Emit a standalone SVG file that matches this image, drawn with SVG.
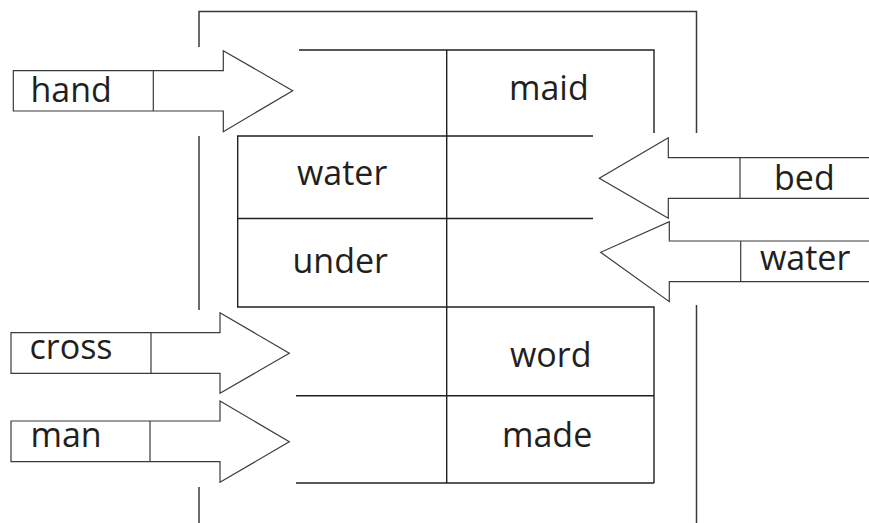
<svg xmlns="http://www.w3.org/2000/svg" width="869" height="523" viewBox="0 0 869 523">
  <style>
    .frame { fill: none; stroke: #3a3a3a; stroke-width: 1.5; }
    .grid { fill: none; stroke: #231f20; stroke-width: 1.4; }
    .arrow { fill: #ffffff; stroke: #3a3a3a; stroke-width: 1.2; stroke-linejoin: miter; }
    .div { stroke: #3a3a3a; stroke-width: 1.2; }
    text { font-family: "Open Sans", "Liberation Sans", sans-serif; font-size: 34px; fill: #231f20; }
  </style>
  <rect width="869" height="523" fill="#ffffff"/>

  <!-- outer frame with gaps for the arrows -->
  <g id="frame" class="frame">
    <path d="M199 47 V11.5 H696.5 V133"/>
    <path d="M199 136 V310"/>
    <path d="M199 487 V523"/>
    <path d="M696.5 305 V523"/>
  </g>

  <!-- word grid -->
  <g id="grid" class="grid">
    <path d="M299 50 H654 V133"/>
    <path d="M593 136 H237.7 V307 H654 V483"/>
    <path d="M237.7 218.5 H593"/>
    <path d="M296 395.7 H654"/>
    <path d="M296 483 H654"/>
    <path d="M446.7 50 V483"/>
  </g>

  <g id="cell-maid"><text x="509" y="100">maid</text></g>
  <g id="cell-water"><text x="297" y="185">water</text></g>
  <g id="cell-under"><text x="292.5" y="272.5">under</text></g>
  <g id="cell-word"><text x="510" y="366.5">word</text></g>
  <g id="cell-made"><text x="502" y="446.5">made</text></g>

  <!-- block arrows -->
  <g id="connectors">
    <g id="arrow-hand">
      <polygon class="arrow" points="13.3,70.7 223.3,70.7 223.3,50.7 292.7,90.7 223.3,131.7 223.3,111 13.3,111"/>
      <line class="div" x1="153.3" y1="70.7" x2="153.3" y2="111"/>
      <text x="30.5" y="101.5">hand</text>
    </g>
    <g id="arrow-cross">
      <polygon class="arrow" points="11,332.7 220,332.7 220,312.7 289.3,353.3 220,393.3 220,373.3 11,373.3"/>
      <line class="div" x1="151" y1="332.7" x2="151" y2="373.3"/>
      <text x="29.5" y="359.3">cross</text>
    </g>
    <g id="arrow-man">
      <polygon class="arrow" points="11,421 220,421 220,401 289.3,441.7 220,482.3 220,461.7 11,461.7"/>
      <line class="div" x1="150" y1="421" x2="150" y2="461.7"/>
      <text x="30.5" y="447.3">man</text>
    </g>
    <g id="arrow-bed">
      <polygon class="arrow" points="875,157.7 668.3,157.7 668.3,137.7 599.3,178.3 668.3,218.3 668.3,198.3 875,198.3"/>
      <line class="div" x1="740" y1="157.7" x2="740" y2="198.3"/>
      <text x="774" y="190">bed</text>
    </g>
    <g id="arrow-water">
      <polygon class="arrow" points="875,241 669.3,241 669.3,221.7 600.7,252.3 669.3,301.7 669.3,281.7 875,281.7"/>
      <line class="div" x1="740.7" y1="241" x2="740.7" y2="281.7"/>
      <text x="760" y="270">water</text>
    </g>
  </g>
</svg>
